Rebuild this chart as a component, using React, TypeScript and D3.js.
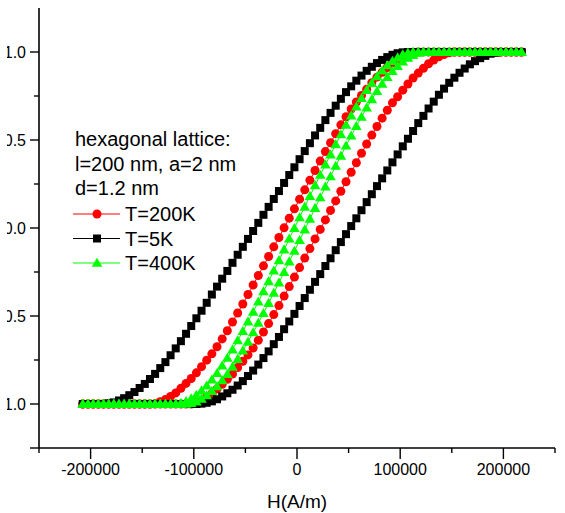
import React from "react";
import * as d3 from "d3";

// Applied field H (A/m)
const fieldH = [
  -207500, -202500, -197500, -192500, -187500, -182500, -177500, -172500, -167500, -162500,
  -157500, -152500, -147500, -142500, -137500, -132500, -127500, -122500, -117500, -112500,
  -107500, -102500, -97500, -92500, -87500, -82500, -77500, -72500, -67500, -62500,
  -57500, -52500, -47500, -42500, -37500, -32500, -27500, -22500, -17500, -12500,
  -7500, -2500, 2500, 7500, 12500, 17500, 22500, 27500, 32500, 37500,
  42500, 47500, 52500, 57500, 62500, 67500, 72500, 77500, 82500, 87500,
  92500, 97500, 102500, 107500, 112500, 117500, 122500, 127500, 132500, 137500,
  142500, 147500, 152500, 157500, 162500, 167500, 172500, 177500, 182500, 187500,
  192500, 197500, 202500, 207500, 212500, 217500,
];

// T = 200K : field decreasing (left branch) / increasing (right branch)
const red200Down = [
  -1, -1, -1, -1, -1, -1, -1, -1, -1, -1,
  -1, -1, -1, -1, -0.998, -0.987, -0.975, -0.957, -0.937, -0.911,
  -0.883, -0.855, -0.823, -0.788, -0.751, -0.715, -0.675, -0.63, -0.584, -0.534,
  -0.483, -0.432, -0.378, -0.324, -0.27, -0.215, -0.162, -0.107, -0.054, 0.001,
  0.056, 0.109, 0.164, 0.217, 0.272, 0.327, 0.38, 0.434, 0.485, 0.536,
  0.586, 0.632, 0.676, 0.716, 0.753, 0.789, 0.825, 0.857, 0.885, 0.912,
  0.938, 0.958, 0.976, 0.988, 0.998, 1, 1, 1, 1, 1,
  1, 1, 1, 1, 1, 1, 1, 1, 1, 1,
  1, 1, 1, 1, 1, 1,
];
const red200Up = [
  -1, -1, -1, -1, -1, -1, -1, -1, -1, -1,
  -1, -1, -1, -1, -1, -1, -1, -1, -1, -1,
  -1, -1, -0.989, -0.978, -0.96, -0.941, -0.915, -0.888, -0.86, -0.83,
  -0.793, -0.757, -0.721, -0.682, -0.638, -0.591, -0.543, -0.492, -0.441, -0.387,
  -0.333, -0.279, -0.225, -0.171, -0.117, -0.062, -0.008, 0.046, 0.1, 0.154,
  0.209, 0.263, 0.317, 0.371, 0.425, 0.477, 0.528, 0.577, 0.624, 0.669,
  0.711, 0.746, 0.783, 0.818, 0.852, 0.88, 0.907, 0.933, 0.954, 0.973,
  0.986, 0.996, 1, 1, 1, 1, 1, 1, 1, 1,
  1, 1, 1, 1, 1, 1,
];

// T = 5K
const black5Down = [
  -1, -1, -1, -1, -1, -0.996, -0.991, -0.98, -0.967, -0.95,
  -0.932, -0.909, -0.886, -0.858, -0.829, -0.796, -0.762, -0.723, -0.684, -0.643,
  -0.601, -0.557, -0.513, -0.47, -0.425, -0.378, -0.333, -0.288, -0.244, -0.198,
  -0.152, -0.107, -0.062, -0.017, 0.029, 0.075, 0.12, 0.165, 0.21, 0.256,
  0.301, 0.345, 0.391, 0.437, 0.482, 0.526, 0.569, 0.613, 0.654, 0.695,
  0.734, 0.772, 0.805, 0.837, 0.866, 0.893, 0.916, 0.937, 0.955, 0.971,
  0.984, 0.993, 0.998, 1, 1, 1, 1, 1, 1, 1,
  1, 1, 1, 1, 1, 1, 1, 1, 1, 1,
  1, 1, 1, 1, 1, 1,
];
const black5Up = [
  -1, -1, -1, -1, -1, -1, -1, -1, -1, -1,
  -1, -1, -1, -1, -1, -1, -1, -1, -1, -1,
  -1, -1, -1, -0.998, -0.993, -0.985, -0.973, -0.957, -0.939, -0.919,
  -0.895, -0.87, -0.841, -0.81, -0.776, -0.739, -0.701, -0.66, -0.619, -0.575,
  -0.531, -0.488, -0.443, -0.398, -0.351, -0.306, -0.262, -0.216, -0.172, -0.126,
  -0.08, -0.035, 0.011, 0.055, 0.101, 0.147, 0.192, 0.238, 0.282, 0.327,
  0.373, 0.418, 0.464, 0.507, 0.551, 0.596, 0.637, 0.679, 0.718, 0.757,
  0.792, 0.825, 0.854, 0.882, 0.906, 0.93, 0.948, 0.965, 0.978, 0.99,
  0.996, 1, 1, 1, 1, 1,
];

// T = 400K
const green400Down = [
  -1, -1, -1, -1, -1, -1, -1, -1, -1, -1,
  -1, -1, -1, -1, -1, -1, -1, -1, -1, -0.995,
  -0.985, -0.969, -0.949, -0.924, -0.896, -0.862, -0.825, -0.783, -0.739, -0.691,
  -0.639, -0.587, -0.532, -0.477, -0.419, -0.361, -0.303, -0.243, -0.184, -0.123,
  -0.061, -0.001, 0.06, 0.12, 0.181, 0.242, 0.301, 0.36, 0.417, 0.475,
  0.531, 0.585, 0.638, 0.689, 0.737, 0.783, 0.823, 0.861, 0.894, 0.923,
  0.948, 0.968, 0.985, 0.995, 1, 1, 1, 1, 1, 1,
  1, 1, 1, 1, 1, 1, 1, 1, 1, 1,
  1, 1, 1, 1, 1, 1,
];
const green400Up = [
  -1, -1, -1, -1, -1, -1, -1, -1, -1, -1,
  -1, -1, -1, -1, -1, -1, -1, -1, -1, -1,
  -1, -0.996, -0.987, -0.971, -0.952, -0.927, -0.9, -0.866, -0.831, -0.789,
  -0.745, -0.697, -0.647, -0.594, -0.54, -0.484, -0.427, -0.369, -0.311, -0.251,
  -0.191, -0.131, -0.07, -0.009, 0.052, 0.113, 0.173, 0.234, 0.293, 0.352,
  0.41, 0.467, 0.524, 0.578, 0.631, 0.683, 0.731, 0.777, 0.818, 0.857,
  0.891, 0.92, 0.945, 0.966, 0.982, 0.994, 1, 1, 1, 1,
  1, 1, 1, 1, 1, 1, 1, 1, 1, 1,
  1, 1, 1, 1, 1, 1,
];

const xMajorTicks = [-200000, -100000, 0, 100000, 200000];
const xMinorTicks = [-250000, -150000, -50000, 50000, 150000, 250000];
const yMajorTicks = [-1.0, -0.5, 0.0, 0.5, 1.0];
const yMinorTicks = [-1.25, -0.75, -0.25, 0.25, 0.75];

const legendHeader = ["hexagonal lattice:", "l=200 nm, a=2 nm", "d=1.2 nm"];
const seriesNames = ["T=200K", "T=5K", "T=400K"];
const seriesColors = ["#ff0000", "#000000", "#00ff00"];
const seriesShapes = ["circle", "square", "triangle"];

const FONT = "'Liberation Sans', Arial, Helvetica, sans-serif";

function Marker({ shape, cx, cy, color }: { shape: string; cx: number; cy: number; color: string }) {
  if (shape === "circle") return <circle cx={cx} cy={cy} r={4.5} fill={color} />;
  if (shape === "square") return <rect x={cx - 4} y={cy - 4} width={8} height={8} fill={color} />;
  return <path d={`M${cx},${cy - 5.3}L${cx + 5.3},${cy + 3.8}L${cx - 5.3},${cy + 3.8}Z`} fill={color} />;
}

export default function App() {
  const x = d3.scaleLinear().domain([-250000, 250000]).range([39, 555]);
  const y = d3.scaleLinear().domain([-1.25, 1.25]).range([448, 8]);

  const series = [
    { down: red200Down, up: red200Up },
    { down: black5Down, up: black5Up },
    { down: green400Down, up: green400Up },
  ];

  const line = d3
    .line<[number, number]>()
    .x((d) => x(d[0]))
    .y((d) => y(d[1]));

  const xFmt = (v: number) => d3.format("d")(v).replace("\u2212", "-");
  const yFmt = (v: number) => d3.format(".1f")(v).replace("\u2212", "-");

  return (
    <svg
      width={565}
      height={513}
      style={{ position: "absolute", left: 0, top: 0, background: "#fff" }}
      fontFamily={FONT}
    >
      <defs>
        <clipPath id="ylab">
          <rect x={7} y={0} width={60} height={513} />
        </clipPath>
      </defs>
      <rect x={0} y={0} width={565} height={513} fill="#fff" />

      {series.map((s, si) => {
        const pts: [number, number][] = [];
        for (let i = fieldH.length - 1; i >= 0; i--) pts.push([fieldH[i], s.down[i]]);
        for (let i = 0; i < fieldH.length; i++) pts.push([fieldH[i], s.up[i]]);
        return (
          <g key={si}>
            <path d={line(pts) || ""} fill="none" stroke={seriesColors[si]} strokeWidth={1} />
            {pts.map((p, k) => (
              <Marker key={k} shape={seriesShapes[si]} cx={x(p[0])} cy={y(p[1])} color={seriesColors[si]} />
            ))}
          </g>
        );
      })}

      {/* axes */}
      <line x1={39} y1={y(1.25)} x2={39} y2={448} stroke="#000" strokeWidth={1.6} />
      <line x1={39} y1={448} x2={555} y2={448} stroke="#000" strokeWidth={1.6} />
      {xMajorTicks.map((t) => (
        <g key={"xM" + t}>
          <line x1={x(t)} x2={x(t)} y1={448} y2={459} stroke="#000" strokeWidth={1.4} />
          <text x={x(t)} y={475} textAnchor="middle" fontSize={16} fill="#000">
            {xFmt(t)}
          </text>
        </g>
      ))}
      {xMinorTicks.map((t) => (
        <line key={"xm" + t} x1={x(t)} x2={x(t)} y1={448} y2={453} stroke="#000" strokeWidth={1.4} />
      ))}
      {yMinorTicks.map((t) => (
        <line key={"ym" + t} x1={t === -1.25 ? 30 : 34} x2={39} y1={y(t)} y2={y(t)} stroke="#000" strokeWidth={1.4} />
      ))}
      <g clipPath="url(#ylab)">
        {yMajorTicks.map((t) => (
          <g key={"yM" + t}>
            <line x1={30} x2={39} y1={y(t)} y2={y(t)} stroke="#000" strokeWidth={1.4} />
            <text x={26} y={y(t) + 5.8} textAnchor="end" fontSize={16} fill="#000">
              {yFmt(t)}
            </text>
          </g>
        ))}
      </g>
      <text x={297} y={508} textAnchor="middle" fontSize={19} fill="#000">
        H(A/m)
      </text>

      {/* legend */}
      {legendHeader.map((t, i) => (
        <text key={t} x={75} y={146 + i * 24.5} fontSize={20} fill="#000">
          {t}
        </text>
      ))}
      {seriesNames.map((n, i) => {
        const ly = 214 + i * 24.5;
        return (
          <g key={n}>
            <line x1={73} x2={120} y1={ly} y2={ly} stroke={seriesColors[i]} strokeWidth={1} />
            <Marker shape={seriesShapes[i]} cx={97} cy={ly} color={seriesColors[i]} />
            <text x={125} y={ly + 7} fontSize={20} fill="#000">
              {n}
            </text>
          </g>
        );
      })}
    </svg>
  );
}
